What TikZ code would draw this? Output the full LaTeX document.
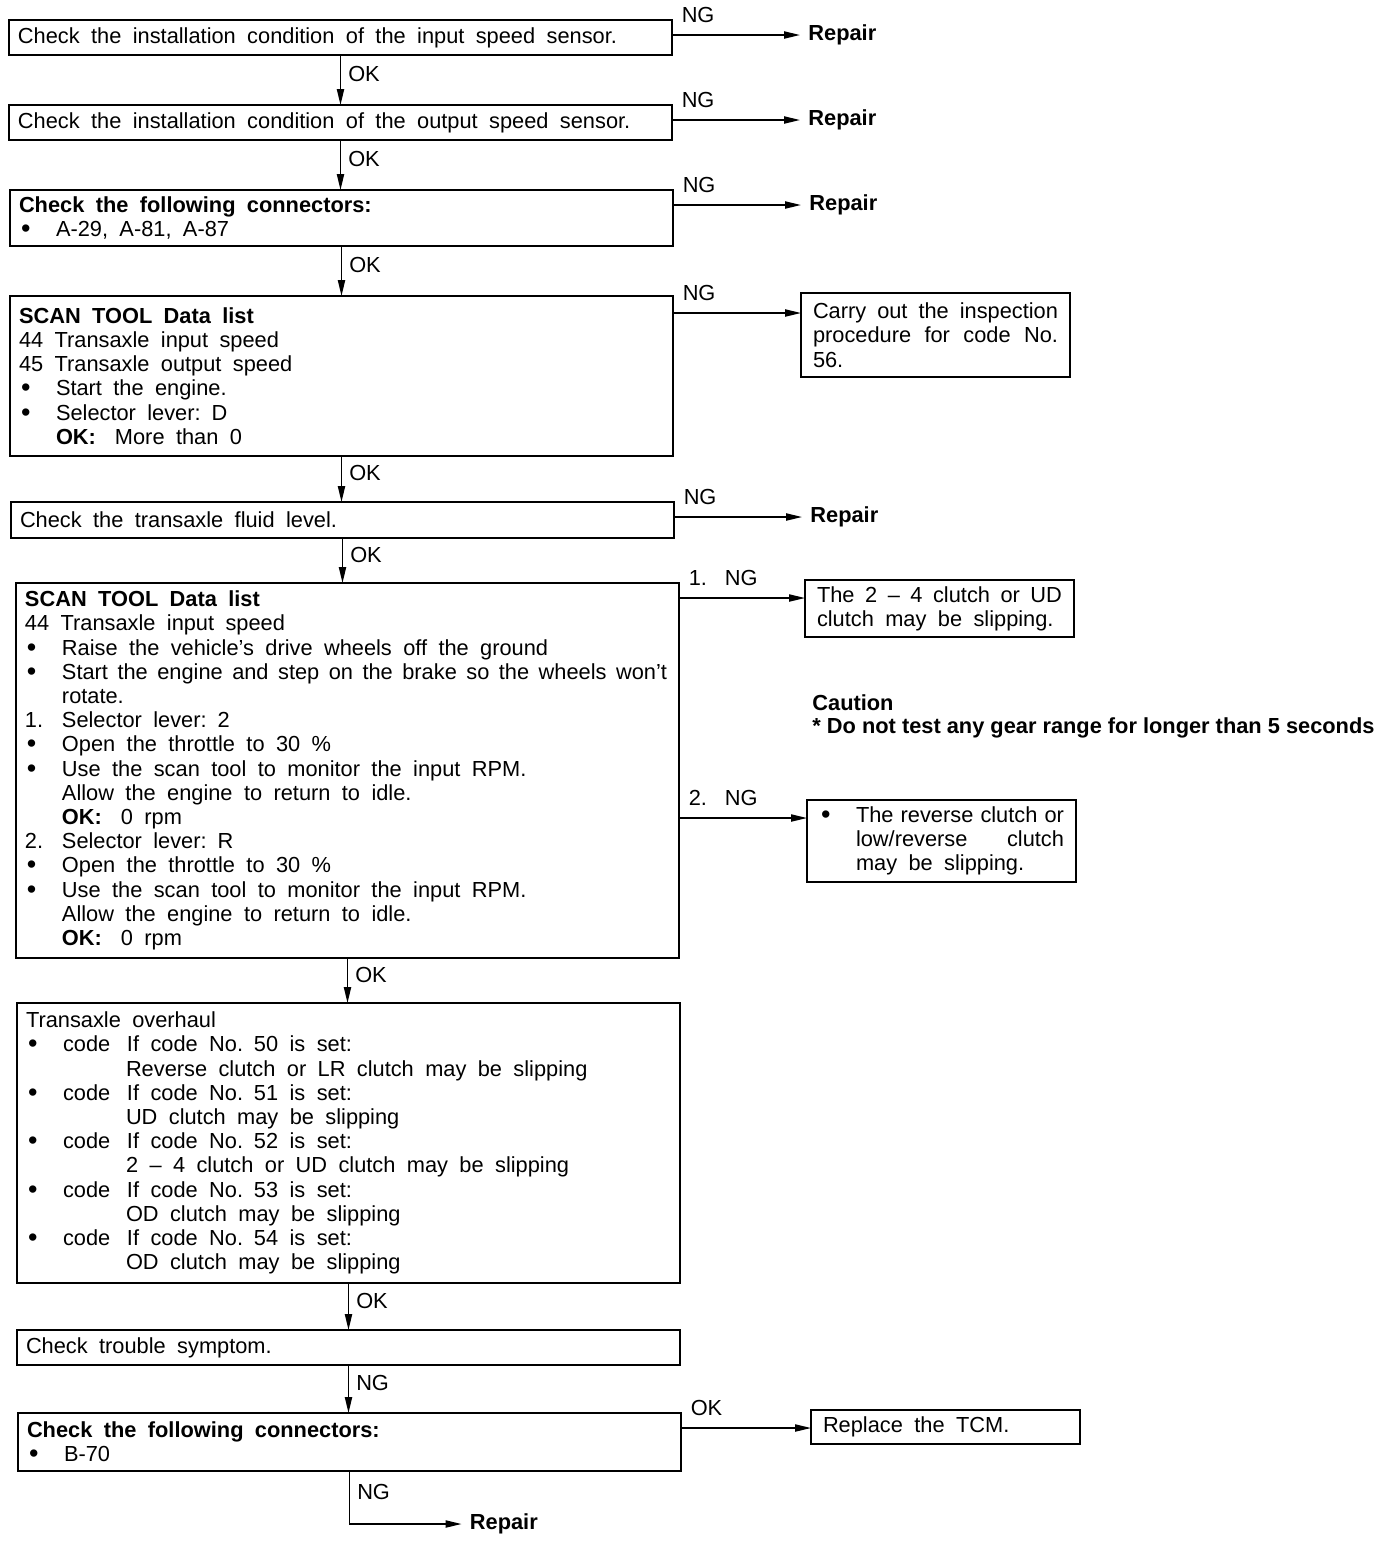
\documentclass[tikz,border=0pt]{standalone}
\usepackage{fontspec}
\setmainfont{Liberation Sans}
\newfontfamily\cautionfont{Liberation Sans}
\usetikzlibrary{arrows.meta, positioning, calc}

\newcommand{\mainsz}{\fontsize{10.9pt}{12.1pt}\selectfont}
\newcommand{\bigdot}{\raisebox{-0.5pt}{\fontsize{13.5pt}{13.5pt}\selectfont •}}
\newcommand{\bul}{\makebox[18.5pt][l]{\hspace{1pt}\bigdot}}
\newcommand{\ind}{\hspace*{18.5pt}}
\newcommand{\numcol}[1]{\makebox[18.5pt][l]{#1}}
\newcommand{\codecol}{\makebox[32pt][l]{code}}
\newcommand{\jline}[2]{\leavevmode\hbox to #1{\spaceskip=2pt plus 1fil\relax #2}}

\begin{document}
\begin{tikzpicture}[
  box/.style={draw, line width=0.9pt, outer sep=0pt, inner xsep=4.5pt, inner ysep=3pt,
              text width=322.5pt, align=left, font=\mainsz,
              execute at begin node={\spaceskip=5.7pt plus 2pt minus 1pt\relax}},
  side/.style={box, text width=122.5pt, inner xsep=6pt},
  rep/.style={font=\mainsz\bfseries, inner sep=4pt},
  arr/.style={-{Triangle[length=8pt,width=3.6pt]}, line width=0.75pt},
  hlab/.style={pos=0, anchor=base west, inner sep=0pt, xshift=4.5pt, yshift=6.5pt, font=\mainsz},
  vlab/.style={pos=0.38, right, inner sep=3.5pt, font=\mainsz}
]
  \useasboundingbox (0,0) rectangle (696pt,-772pt);

  % main column
  \node[box, anchor=north west, minimum height=17.5pt] (b1) at (4.5pt,-10pt)
    {Check the installation condition of the input speed sensor.};
  \node[box, below right=25pt and 0pt of b1.south west, minimum height=17.5pt] (b2)
    {Check the installation condition of the output speed sensor.};
  \node[box, below right=25pt and 0.5pt of b2.south west, minimum height=28pt] (b3)
    {\textbf{Check the following connectors:}\\
     \bul A-29, A-81, A-87};
  \node[box, below right=25pt and 0pt of b3.south west, minimum height=80pt] (b4)
    {\textbf{SCAN TOOL Data list}\\
     44 Transaxle input speed\\
     45 Transaxle output speed\\
     \bul Start the engine.\\
     \bul Selector lever: D\\
     \ind\textbf{OK:}\hspace{9.5pt}More than 0};
  \node[box, below right=23pt and 0.5pt of b4.south west, minimum height=18pt] (b5)
    {Check the transaxle fluid level.};
  \node[box, below right=22.5pt and 2.5pt of b5.south west, minimum height=187.5pt] (b6)
    {\textbf{SCAN TOOL Data list}\\
     44 Transaxle input speed\\
     \bul Raise the vehicle's drive wheels off the ground\\
     \bul\jline{302.5pt}{Start the engine and step on the brake so the wheels won't}\\
     \ind rotate.\\
     \numcol{1.}Selector lever: 2\\
     \bul Open the throttle to 30 \%\\
     \bul Use the scan tool to monitor the input RPM.\\
     \ind Allow the engine to return to idle.\\
     \ind\textbf{OK:}\hspace{9.5pt}0 rpm\\
     \numcol{2.}Selector lever: R\\
     \bul Open the throttle to 30 \%\\
     \bul Use the scan tool to monitor the input RPM.\\
     \ind Allow the engine to return to idle.\\
     \ind\textbf{OK:}\hspace{9.5pt}0 rpm};
  \node[box, below right=22.5pt and 0.5pt of b6.south west, minimum height=140pt] (b7)
    {Transaxle overhaul\\
     \bul\codecol If code No. 50 is set:\\
     \hspace*{50pt}Reverse clutch or LR clutch may be slipping\\
     \bul\codecol If code No. 51 is set:\\
     \hspace*{50pt}UD clutch may be slipping\\
     \bul\codecol If code No. 52 is set:\\
     \hspace*{50pt}2 – 4 clutch or UD clutch may be slipping\\
     \bul\codecol If code No. 53 is set:\\
     \hspace*{50pt}OD clutch may be slipping\\
     \bul\codecol If code No. 54 is set:\\
     \hspace*{50pt}OD clutch may be slipping};
  \node[box, below right=23.5pt and 0pt of b7.south west, minimum height=17.5pt] (b8)
    {Check trouble symptom.};
  \node[box, below right=24pt and 0.5pt of b8.south west, minimum height=29pt] (b9)
    {\textbf{Check the following connectors:}\\
     \bul B-70};

  \foreach \a/\b/\t in {b1/b2/OK, b2/b3/OK, b3/b4/OK, b4/b5/OK,
                        b5/b6/OK, b6/b7/OK, b7/b8/OK, b8/b9/NG}
    \draw[arr] (\a.south) -- node[vlab]{\t} (\a.south |- \b.north);

  % NG -> Repair
  \foreach \b in {b1,b2,b3,b5} {
    \coordinate (c\b) at ($(\b.north east)+(0,-7.5pt)$);
    \node[rep, right=64pt of c\b] (r\b) {Repair};
    \draw[arr] (c\b) -- node[hlab]{NG} (r\b);
  }

  % side branches
  \coordinate (c4) at ($(b4.north east)+(0,-8.5pt)$);
  \node[side, right=64pt of c4, anchor=north west, yshift=10pt, minimum height=42pt] (s4)
    {\jline{\hsize}{Carry out the inspection}\\
     \jline{\hsize}{procedure for code No.}\\
     56.};
  \draw[arr] (c4) -- node[hlab]{NG} (c4 -| s4.west);

  \coordinate (c6a) at ($(b6.north east)+(0,-7.5pt)$);
  \node[side, right=63pt of c6a, anchor=north west, yshift=9pt, minimum height=28.5pt] (s6a)
    {\jline{\hsize}{The 2 – 4 clutch or UD}\\
     clutch may be slipping.};
  \draw[arr] (c6a) -- node[hlab]{1.\hspace{9pt}NG} (c6a -| s6a.west);

  \node[font=\cautionfont\bfseries\fontsize{10.9pt}{11.6pt}\selectfont, align=left,
        inner sep=0pt, below right=28.5pt and 3.5pt of s6a.south west] (caution)
    {Caution\\* Do not test any gear range for longer than 5 seconds};

  \coordinate (c6b) at ($(b6.north east)+(0,-117.5pt)$);
  \node[side, right=64pt of c6b, anchor=north west, yshift=9pt, minimum height=41pt] (s6b)
    {\bul\jline{\dimexpr\hsize-18.5pt\relax}{The reverse clutch or}\\
     \ind\jline{\dimexpr\hsize-18.5pt\relax}{low/reverse clutch}\\
     \ind may be slipping.};
  \draw[arr] (c6b) -- node[hlab]{2.\hspace{9pt}NG} (c6b -| s6b.west);

  \coordinate (c9) at ($(b9.north east)+(0,-7.5pt)$);
  \node[side, right=65pt of c9, anchor=north west, yshift=9pt, minimum height=17pt] (s9)
    {Replace the TCM.};
  \draw[arr] (c9) -- node[hlab]{OK} (c9 -| s9.west);

  \coordinate[below=26.5pt of b9.south] (k9);
  \node[rep, right=56pt of k9] (r9) {Repair};
  \draw[arr] (b9.south) -- node[vlab, pos=0.4]{NG} (k9) -- (r9);
\end{tikzpicture}
\end{document}
